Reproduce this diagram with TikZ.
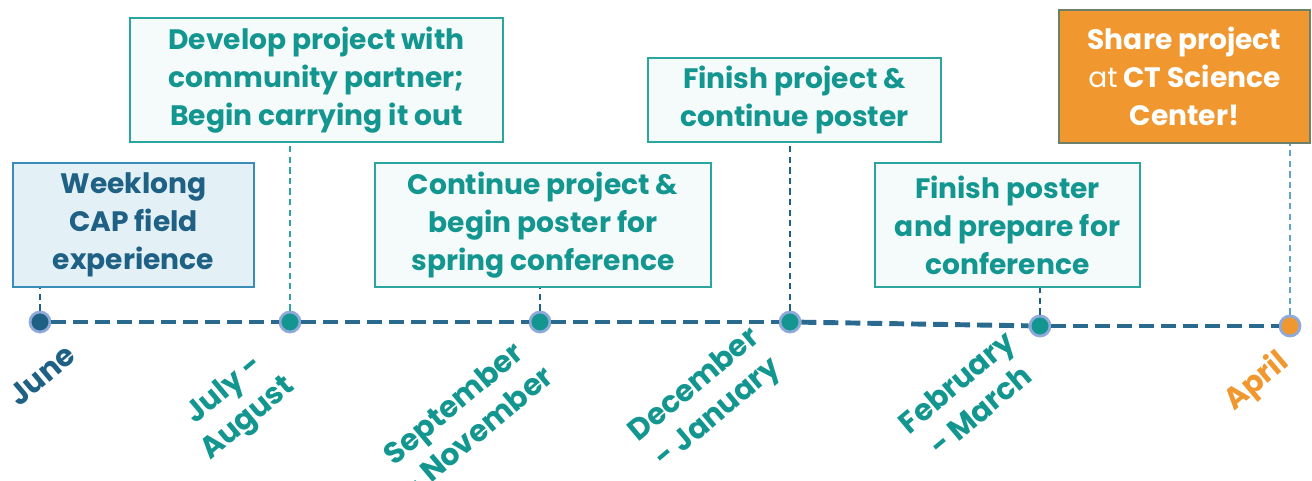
\documentclass[tikz,border=0pt]{standalone}
\usepackage{fontspec}
\setmainfont{Poppins}
\usepackage{xcolor}
\usepackage{tikz}
\usetikzlibrary{positioning}
\usetikzlibrary{calc}

\definecolor{tealtext}{HTML}{139690}
\definecolor{tealline}{HTML}{2BA5A0}
\definecolor{darkblue}{HTML}{1F6185}
\definecolor{weekfill}{HTML}{E3F1F7}
\definecolor{weekline}{HTML}{3A8DB8}
\definecolor{tealfill}{HTML}{F5FBFB}
\definecolor{dashblue}{HTML}{2A6A8E}
\definecolor{ringblue}{HTML}{8FA9DA}
\definecolor{shareorange}{HTML}{F0982F}
\definecolor{shareline}{HTML}{6E7F6A}

\tikzset{
  boxtext/.style={font=\fontsize{16}{21.6}\selectfont\bfseries, align=center, inner sep=0pt},
  stepbox/.style={boxtext, draw=tealline, line width=1.2pt, fill=tealfill, text=tealtext},
  dot/.style={circle, minimum size=0.40cm, inner sep=0pt, draw=ringblue, line width=1.6pt, fill=tealtext},
  month/.style={boxtext, font=\fontsize{17}{21}\selectfont\bfseries, rotate=40, text=tealtext},
  link/.style={dash pattern=on 3.5pt off 2.5pt, line width=1.5pt},
  timeline/.style={dash pattern=on 8.5pt off 4pt, line width=2.8pt, draw=dashblue}
}

\begin{document}
\begin{tikzpicture}
  \useasboundingbox (0,0) rectangle (26.24,9.62);

  % the dates along the line
  \node[dot, fill=darkblue] (june) at (0.80,3.18) {};
  \node[dot] (julaug) at (5.80,3.18) {};
  \node[dot] (sepnov) at (10.80,3.18) {};
  \node[dot] (decjan) at (15.80,3.18) {};
  \node[dot] (febmar) at (20.80,3.10) {};
  \node[dot, fill=shareorange] (april) at (25.80,3.10) {};

  % the dashed timeline
  \draw[timeline] (june) -- (julaug);
  \draw[timeline] (julaug) -- (sepnov);
  \draw[timeline] (sepnov) -- (decjan);
  \draw[timeline] (decjan) -- (febmar);
  \draw[timeline] (febmar) -- (april);

  % the steps
  \node[boxtext, draw=weekline, line width=1.2pt, fill=weekfill, text=darkblue,
        minimum width=4.82cm, minimum height=2.48cm] (week) at (2.67,5.12)
        {Weeklong\\CAP field\\experience};
  \node[stepbox, minimum width=7.46cm, minimum height=2.48cm] (develop) at (6.33,8.02)
        {Develop project with\\community partner;\\Begin carrying it out};
  \node[stepbox, minimum width=6.72cm, minimum height=2.48cm] (contin) at (10.86,5.12)
        {Continue project \&\\begin poster for\\spring conference};
  \node[stepbox, minimum width=5.86cm, minimum height=1.68cm] (finproj) at (15.89,7.62)
        {Finish project \&\\continue poster};
  \node[stepbox, minimum width=5.30cm, minimum height=2.48cm] (finposter) at (20.15,5.12)
        {Finish poster\\and prepare for\\conference};
  \node[boxtext, draw=shareline, line width=1.2pt, fill=shareorange, text=white,
        minimum width=5.02cm, minimum height=2.66cm] (share) at (23.69,8.09)
        {Share project\\{\mdseries at} CT Science\\Center!};

  % links from the dates up to the steps
  \draw[link, draw=darkblue] (june) -- (june |- week.south);
  \draw[link, draw=tealline] (julaug) -- (julaug |- develop.south);
  \draw[link, draw=darkblue] (sepnov) -- (sepnov |- contin.south);
  \draw[link, draw=darkblue] (decjan) -- (decjan |- finproj.south);
  \draw[link, draw=darkblue] (febmar) -- (febmar |- finposter.south);
  \draw[link, draw=weekline!80] (april) -- (april |- share.south);

  % month names
  \node[month, text=darkblue] (mjune) at ($(june)+(0.04,-1.06)$) {June};
  \node[month] (mjulaug) at ($(julaug)+(-1.06,-1.66)$) {July -\\August};
  \node[month] (msepnov) at ($(sepnov)+(-1.50,-1.90)$) {September\\- November};
  \node[month] (mdecjan) at ($(decjan)+(-1.66,-1.56)$) {December\\- January};
  \node[month] (mfebmar) at ($(febmar)+(-1.44,-1.40)$) {February\\- March};
  \node[month, text=shareorange] (mapril) at ($(april)+(-0.66,-1.12)$) {April};

\end{tikzpicture}
\end{document}
